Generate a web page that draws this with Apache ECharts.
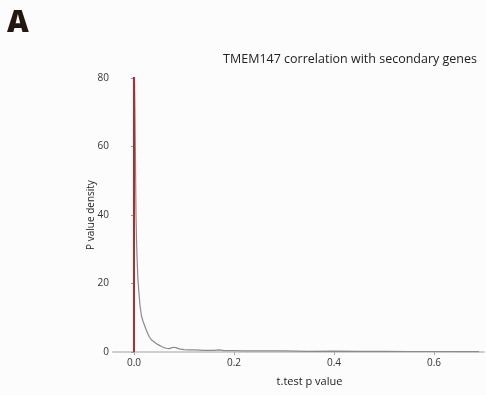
<!DOCTYPE html>
<html><head><meta charset="utf-8">
<script src="https://cdn.jsdelivr.net/npm/echarts@6/dist/echarts.min.js"></script>
<style>html,body{margin:0;padding:0;background:#fcfcfd}#c{width:486px;height:395px}</style>
</head><body><div id="c"></div>
<script>
// density curve of t.test p values
const pValues = [0.001,0.002,0.003,0.004,0.005,0.006,0.007,0.008,0.009,0.010,0.012,0.015,0.018,0.021,0.025,0.030,0.035,0.040,0.045,0.050,0.055,0.060,0.065,0.070,0.075,0.080,0.085,0.090,0.100,0.110,0.120,0.140,0.160,0.170,0.180,0.200,0.220,0.250,0.280,0.300,0.350,0.400,0.450,0.500,0.550,0.600,0.650,0.690];
const densities = [80,70,55,40,33,28,24,21,19,17,13.5,10.5,9,7.8,6.2,4.6,3.5,3.0,2.4,2.0,1.6,1.3,1.1,1.0,1.2,1.4,1.2,0.9,0.7,0.6,0.6,0.5,0.5,0.6,0.4,0.4,0.35,0.3,0.35,0.3,0.2,0.25,0.2,0.2,0.15,0.15,0.1,0.1];
// threshold (red line) at p = 0
const thresholdX = [0, 0];
const thresholdY = [0, 80.5];
const xTicks = [0, 0.2, 0.4, 0.6];
const yTicks = [0, 20, 40, 60, 80];

const chart = echarts.init(document.getElementById('c'));
const font = '"Open Sans", "Noto Sans", sans-serif';
chart.setOption({
  backgroundColor: '#fcfcfd',
  animation: false,
  title: [
    {text: 'A', left: 2, top: 3, textStyle: {fontSize: 30, fontWeight: 900, color: '#24160f', fontFamily: font}},
    {text: 'TMEM147 correlation with secondary genes', right: 4, top: 48, textStyle: {fontSize: 12.5, fontWeight: 'normal', color: '#222', fontFamily: font}}
  ],
  grid: {left: 113, right: 2, top: 78, bottom: 43},
  xAxis: {
    type: 'value', min: -0.042, max: 0.70,
    name: 't.test p value', nameLocation: 'middle', nameGap: 24, nameMoveOverlap: false,
    nameTextStyle: {fontSize: 11, color: '#222', fontFamily: font, padding: [0, 0, 0, 22]},
    axisLine: {show: true, onZero: false, lineStyle: {color: '#cfcfcf', width: 2}},
    axisTick: {show: true, length: 3, customValues: xTicks, lineStyle: {color: '#aaa'}},
    axisLabel: {customValues: xTicks, fontSize: 10, color: '#333', fontFamily: font, margin: 6,
      formatter: v => v.toFixed(1)},
    splitLine: {show: false}
  },
  yAxis: {
    type: 'value', min: 0, max: 80, interval: 20,
    name: 'P value density', nameLocation: 'middle', nameGap: 17, nameMoveOverlap: false,
    nameTextStyle: {fontSize: 10, color: '#222', fontFamily: font},
    axisLine: {show: true, lineStyle: {color: '#999', width: 1}},
    axisTick: {show: true, length: 3, lineStyle: {color: '#999'}},
    axisLabel: {fontSize: 10, color: '#333', fontFamily: font, margin: 4, customValues: yTicks},
    splitLine: {show: false}
  },
  series: [
    {type: 'line', data: pValues.map((p, i) => [p, densities[i]]), showSymbol: false, smooth: false,
      lineStyle: {color: '#8a8a8a', width: 1.2}, z: 2},
    {type: 'line', data: thresholdX.map((x, i) => [x, thresholdY[i]]), showSymbol: false,
      lineStyle: {color: '#b52a2a', width: 2}, z: 3}
  ]
});
</script></body></html>
